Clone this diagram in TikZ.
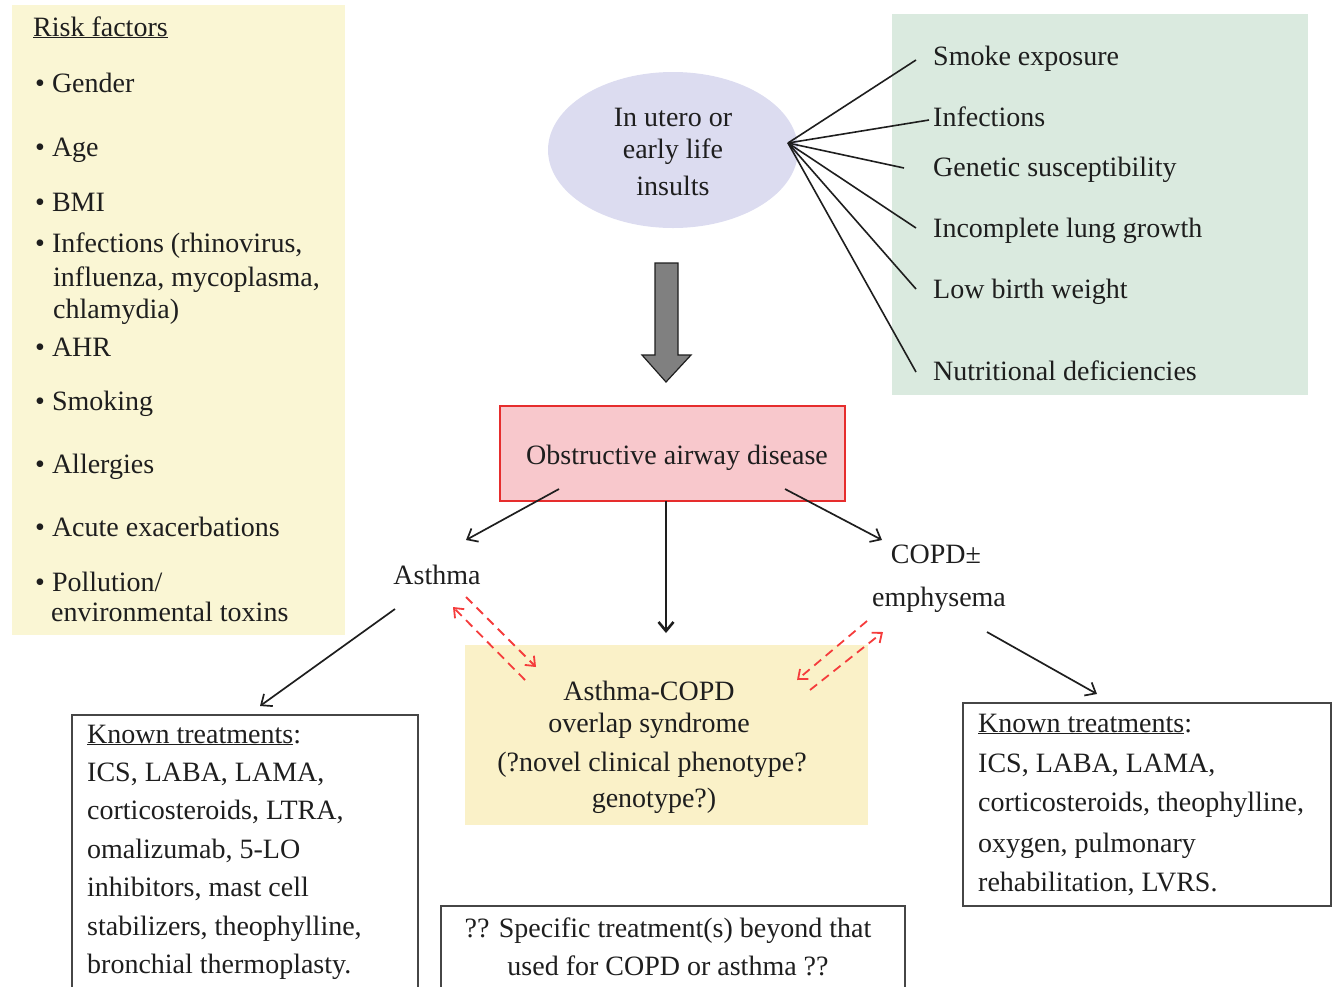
\documentclass[tikz,border=0pt]{standalone}
\usepackage{fontspec}
\setmainfont{Liberation Serif}
\usetikzlibrary{arrows.meta,shapes.geometric}
\definecolor{ink}{RGB}{30,30,30}
\definecolor{riskbg}{RGB}{250,246,212}
\definecolor{greenbg}{RGB}{218,234,223}
\definecolor{lav}{RGB}{220,220,240}
\definecolor{pinkbg}{RGB}{248,200,204}
\definecolor{redline}{RGB}{230,45,45}
\definecolor{overbg}{RGB}{250,241,200}
\definecolor{boxline}{RGB}{70,70,70}
\definecolor{dashred}{RGB}{245,60,60}
\newcommand\myfs{\fontsize{28}{38}\selectfont}
\begin{document}
\begin{tikzpicture}[x=1pt,y=-1pt,
  every node/.style={inner sep=0pt, text=ink, font=\myfs},
  txt/.style={anchor=base west},
  ctxt/.style={anchor=base},
  conn/.style={draw=ink, line width=1.7pt, -{Straight Barb[length=9pt,width=15pt]}},
  ray/.style={draw=ink, line width=1.6pt},
  redd/.style={draw=dashred, dash pattern=on 9pt off 6pt, line width=1.8pt, -{Straight Barb[length=8pt,width=13pt]}},
  tbox/.style={draw=boxline, line width=1.6pt}]
\useasboundingbox (0,0) rectangle (1333,986);
% backgrounds
\fill[riskbg] (12,5) rectangle (345,635);
\fill[greenbg] (892,14) rectangle (1308,395);
\fill[overbg] (465,645) rectangle (868,825);
% risk factors
\node[txt] (rf) at (33,36) {\underline{Risk factors}};
\node[txt] (r1) at (35,92) {\textbullet\ Gender};
\node[txt] (r2) at (35,156) {\textbullet\ Age};
\node[txt] (r3) at (35,211) {\textbullet\ BMI};
\node[txt] (r4a) at (35,252) {\textbullet\ Infections (rhinovirus,};
\node[txt] (r4b) at (53,286) {influenza, mycoplasma,};
\node[txt] (r4c) at (53,318) {chlamydia)};
\node[txt] (r5) at (35,356) {\textbullet\ AHR};
\node[txt] (r6) at (35,410) {\textbullet\ Smoking};
\node[txt] (r7) at (35,473) {\textbullet\ Allergies};
\node[txt] (r8) at (35,536) {\textbullet\ Acute exacerbations};
\node[txt] (r9a) at (35,591) {\textbullet\ Pollution/};
\node[txt] (r9b) at (51,621) {environmental toxins};
% ellipse
\node[ellipse, fill=lav, minimum width=250, minimum height=156] (utero) at (673,150) {};
\node[ctxt] (u1) at (673,126) {In utero or};
\node[ctxt] (u2) at (673,158) {early life};
\node[ctxt] (u3) at (673,195) {insults};
% early-life factors
\node[txt] (f1) at (933,65) {Smoke exposure};
\node[txt] (f2) at (933,126) {Infections};
\node[txt] (f3) at (933,176) {Genetic susceptibility};
\node[txt] (f4) at (933,237) {Incomplete lung growth};
\node[txt] (f5) at (933,298) {Low birth weight};
\node[txt] (f6) at (933,380) {Nutritional deficiencies};
\coordinate (hub) at (788,143);
\coordinate (e1) at (916,60);
\coordinate (e2) at (929,120);
\coordinate (e3) at (904,168);
\coordinate (e4) at (916,228);
\coordinate (e5) at (916,289);
\coordinate (e6) at (916,372);
\foreach \e in {e1,e2,e3,e4,e5,e6} \draw[ray] (hub) -- (\e);
% block arrow
\draw[fill={rgb,255:red,128;green,128;blue,128}, draw=ink, line width=1.2pt]
  (655,263) -- (678,263) -- (678,355) -- (691,355) -- (666,382) -- (642,355) -- (655,355) -- cycle;
% obstructive
\node[draw=redline, fill=pinkbg, line width=1.6pt, minimum width=345, minimum height=95] (obs) at (672.5,453.5) {};
\node[ctxt] (obst) at (677,464) {Obstructive airway disease};
% asthma / copd
\node[ctxt] (asthma) at (437,584) {Asthma};
\node[ctxt] (copd1) at (936,563) {COPD±};
\node[ctxt] (copd2) at (939,606) {emphysema};
\coordinate (obsL) at (559,489);
\coordinate (obsR) at (785,489);
\coordinate (asthT) at (466,540);
\coordinate (copdT) at (882,540);
\draw[conn] (obsL) -- (asthT);
\draw[conn] (obsR) -- (copdT);
\coordinate (obsB) at (666,501);
\coordinate (overT) at (666,633);
\draw[conn, line width=2.6pt] (obsB) -- (overT);
\coordinate (asthB) at (395,609);
\coordinate (ltT) at (260,706);
\draw[conn] (asthB) -- (ltT);
\coordinate (copdB) at (987,632);
\coordinate (rtT) at (1097,694);
\draw[conn] (copdB) -- (rtT);
% overlap
\node[ctxt] (o1) at (649,700) {Asthma-COPD};
\node[ctxt] (o2) at (649,732) {overlap syndrome};
\node[ctxt] (o3) at (652,771) {(?novel clinical phenotype?};
\node[ctxt] (o4) at (654,807) {genotype?)};
% dashed red double arrows
\coordinate (da1) at (466,597);
\coordinate (da2) at (536,667);
\coordinate (db1) at (525,680);
\coordinate (db2) at (453,607);
\coordinate (dc1) at (867,621);
\coordinate (dc2) at (797,680);
\coordinate (dd1) at (810,690);
\coordinate (dd2) at (883,632);
\draw[redd] (da1) -- (da2);
\draw[redd] (db1) -- (db2);
\draw[redd] (dc1) -- (dc2);
\draw[redd] (dd1) -- (dd2);
% left treatments
\draw[tbox] (72,990) -- (72,715) -- (418,715) -- (418,990);
\node[txt] (lt0) at (87,743) {\underline{Known treatments}:};
\node[txt] (lt1) at (87,781) {ICS, LABA, LAMA,};
\node[txt] (lt2) at (87,819) {corticosteroids, LTRA,};
\node[txt] (lt3) at (87,858) {omalizumab, 5-LO};
\node[txt] (lt4) at (87,896) {inhibitors, mast cell};
\node[txt] (lt5) at (87,935) {stabilizers, theophylline,};
\node[txt] (lt6) at (87,973) {bronchial thermoplasty.};
% right treatments
\draw[tbox] (963,703) rectangle (1331,906);
\node[txt] (rt0) at (978,732) {\underline{Known treatments}:};
\node[txt] (rt1) at (978,772) {ICS, LABA, LAMA,};
\node[txt] (rt2) at (978,811) {corticosteroids, theophylline,};
\node[txt] (rt3) at (978,852) {oxygen, pulmonary};
\node[txt] (rt4) at (978,891) {rehabilitation, LVRS.};
% bottom box
\draw[tbox] (441,990) -- (441,906) -- (905,906) -- (905,990);
\node[ctxt] (b1) at (668,937) {?? Specific treatment(s) beyond that};
\node[ctxt] (b2) at (668,975) {used for COPD or asthma ??};
\end{tikzpicture}
\end{document}
